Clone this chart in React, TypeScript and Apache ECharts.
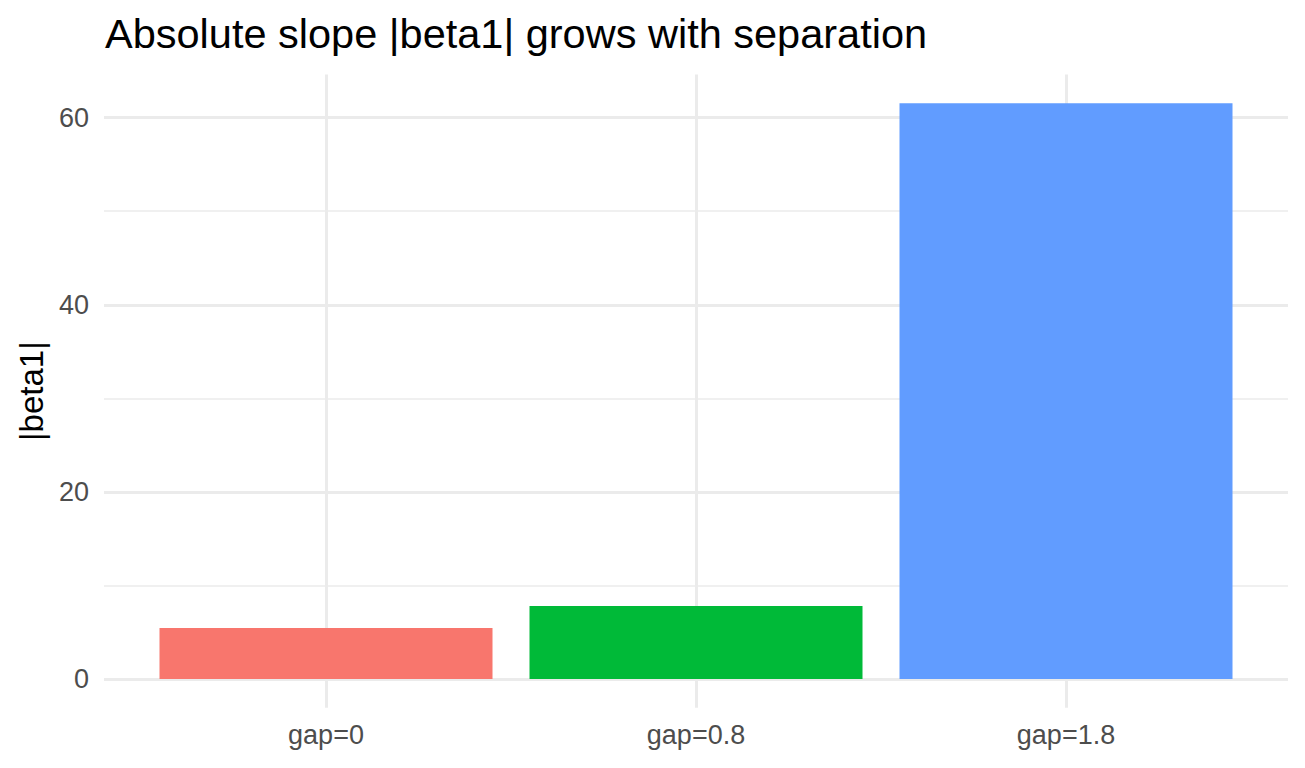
import React, { useEffect, useRef } from "react";
import * as echarts from "echarts";

const categories = ["gap=0", "gap=0.8", "gap=1.8"];
const values = [5.45, 7.8, 61.55];
const barColors = ["#F8766D", "#00BA38", "#619CFF"];
const yTicks = [0, 20, 40, 60];
const yMinorTicks = [10, 30, 50];
const xPositions = [1, 2, 3];

const FONT = "'Liberation Sans', Arial, Helvetica, sans-serif";

export default function App() {
  const ref = useRef<HTMLDivElement>(null);

  useEffect(() => {
    if (!ref.current) return;
    const chart = echarts.init(ref.current, undefined, { renderer: "svg" });
    const yMax = Math.max(...values);
    const yLo = -0.05 * yMax;
    const yHi = yMax * 1.05;
    const n = categories.length;

    chart.setOption({
      animation: false,
      backgroundColor: "#ffffff",
      textStyle: { fontFamily: FONT },
      title: {
        text: "Absolute slope |beta1| grows with separation",
        left: 105,
        top: 12,
        padding: 0,
        textStyle: { fontFamily: FONT, fontSize: 41.5, fontWeight: "normal", color: "#000000" },
      },
      grid: { left: 104, right: 17, top: 74.4, bottom: 60.2, containLabel: false },
      xAxis: {
        type: "value",
        min: 0.4,
        max: n + 0.6,
        axisLine: { show: false },
        axisTick: { show: false, customValues: xPositions },
        axisLabel: {
          customValues: xPositions,
          formatter: (v: number) => categories[Math.round(v) - 1] ?? "",
          color: "#4D4D4D",
          fontSize: 27,
          fontFamily: FONT,
          margin: 14,
        },
        splitLine: { show: true, lineStyle: { color: "#EBEBEB", width: 3 } },
      },
      yAxis: {
        type: "value",
        min: yLo,
        max: yHi,
        name: "|beta1|",
        nameLocation: "middle",
        nameRotate: 90,
        nameGap: 52,
        nameTextStyle: { color: "#000000", fontSize: 33, fontFamily: FONT },
        axisLine: { show: false },
        axisTick: { show: false, customValues: yTicks },
        axisLabel: {
          customValues: yTicks,
          color: "#4D4D4D",
          fontSize: 27,
          fontFamily: FONT,
          margin: 15,
        },
        splitLine: { show: true, lineStyle: { color: "#EBEBEB", width: 3 } },
      },
      series: [
        {
          type: "line",
          data: [],
          z: 1,
          silent: true,
          markLine: {
            silent: true,
            z: 1,
            zlevel: 0,
            symbol: ["none", "none"],
            label: { show: false },
            lineStyle: { color: "#EBEBEB", width: 1.5, type: "solid" },
            data: yMinorTicks.map((v) => ({ yAxis: v })),
          },
        },
        {
          type: "bar",
          z: 3,
          barWidth: 333,
          data: values.map((v, i) => ({
            value: [xPositions[i], v],
            itemStyle: { color: barColors[i] },
          })),
        },
      ],
    });

    return () => chart.dispose();
  }, []);

  return (
    <div
      ref={ref}
      style={{ position: "fixed", left: 0, top: 0, width: 1305, height: 768 }}
    />
  );
}
